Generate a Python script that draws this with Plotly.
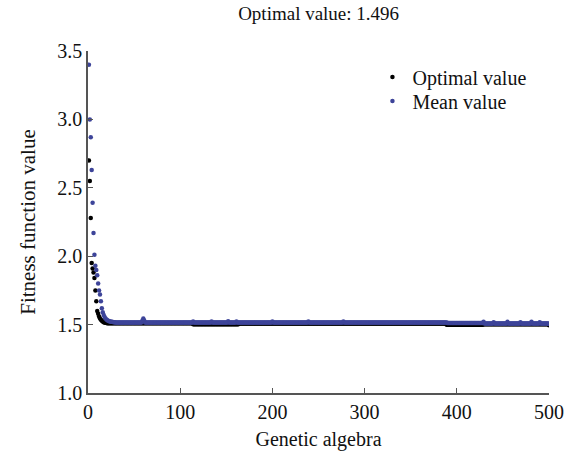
import plotly.graph_objects as go

# ---------------- data ----------------
# early generations, explicit values
OPT_EARLY = [2.70, 2.55, 2.28, 1.95, 1.91, 1.88, 1.84, 1.75, 1.67, 1.60,
             1.58, 1.56, 1.545, 1.535, 1.528, 1.522, 1.518, 1.515, 1.513, 1.512]
MEAN_EARLY = [3.40, 3.00, 2.87, 2.63, 2.39, 2.17, 2.01, 1.93, 1.90, 1.86,
              1.80, 1.75, 1.72, 1.67, 1.62, 1.59, 1.57, 1.555, 1.545, 1.537,
              1.532, 1.528, 1.525, 1.523, 1.521, 1.520, 1.519, 1.518, 1.517, 1.516]

# plateau, written as (value, number of generations) runs
OPT_RUNS = [(1.510, 93), (1.502, 50), (1.508, 225), (1.499, 40), (1.503, 71), (1.496, 1)]
MEAN_RUNS = [(1.515, 28), (1.530, 1), (1.545, 1), (1.530, 1), (1.515, 52),
             (1.522, 1), (1.515, 19), (1.523, 1), (1.515, 17), (1.525, 1),
             (1.515, 8), (1.522, 1), (1.515, 38), (1.522, 1), (1.515, 38),
             (1.522, 1), (1.515, 37), (1.523, 1), (1.515, 112),
             (1.512, 39), (1.520, 1), (1.508, 10), (1.518, 1), (1.508, 14),
             (1.520, 1), (1.508, 13), (1.518, 1), (1.508, 11), (1.520, 1),
             (1.508, 8), (1.518, 1), (1.508, 9), (1.506, 1)]

X_TICKS = [0, 100, 200, 300, 400, 500]
Y_TICKS = [1.0, 1.5, 2.0, 2.5, 3.0, 3.5]
BEST = 1.496


def expand(early, runs):
    out = list(early)
    for v, n in runs:
        out.extend([v] * n)
    return out


opt = expand(OPT_EARLY, OPT_RUNS)
mean = expand(MEAN_EARLY, MEAN_RUNS)
gens = list(range(1, len(opt) + 1))

FONT = "Liberation Serif, Times New Roman, serif"
AX = "#555555"
BLUE = "#3d4499"

fig = go.Figure()
fig.add_trace(go.Scatter(x=gens, y=opt, mode="markers", name="Optimal value",
                         legend="legend",
                         marker=dict(color="black", size=4.5)))
fig.add_trace(go.Scatter(x=gens, y=mean, mode="markers", name="Mean value",
                         legend="legend2",
                         marker=dict(color=BLUE, size=4.5)))

leg = dict(xanchor="left", yanchor="middle", bgcolor="rgba(0,0,0,0)",
           font=dict(family=FONT, size=20), borderwidth=0)

fig.update_layout(
    width=571, height=453,
    margin=dict(l=88, r=22, t=51, b=60, autoexpand=False),
    paper_bgcolor="white", plot_bgcolor="white",
    font=dict(family=FONT, size=20, color="#111111"),
    title=dict(text=f"Optimal value: {BEST}", x=0.558, xanchor="center",
               y=0.97, yanchor="middle", font=dict(family=FONT, size=19)),
    legend=dict(x=0.617, y=(393 - 77) / 342, **leg),
    legend2=dict(x=0.617, y=(393 - 101) / 342, **leg),
    showlegend=True,
)
fig.update_xaxes(range=[0, 500], tickvals=X_TICKS, ticks="inside", ticklen=5,
                 tickcolor=AX, showline=True, linecolor=AX, linewidth=1.5,
                 showgrid=False, zeroline=False, automargin=False,
                 tickfont=dict(family=FONT, size=20),
                 title=dict(text="Genetic algebra", font=dict(family=FONT, size=20), standoff=10))
fig.update_yaxes(range=[1.0, 3.5], tickvals=Y_TICKS, tickformat=".1f",
                 ticks="inside", ticklen=5, tickcolor=AX, showline=True,
                 linecolor=AX, linewidth=1.5, showgrid=False, zeroline=False,
                 automargin=False, tickfont=dict(family=FONT, size=20),
                 title=dict(text="Fitness function value", font=dict(family=FONT, size=21), standoff=16))

fig.write_html("out.html")
